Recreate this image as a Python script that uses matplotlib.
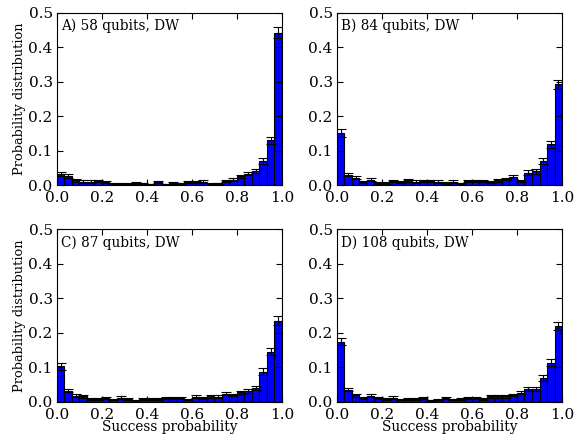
import numpy as np
import matplotlib
matplotlib.use('Agg')
import matplotlib.pyplot as plt

# 30 bins of success probability in [0, 1]
bin_edges = np.linspace(0.0, 1.0, 31)

labels = ['A) 58 qubits, DW', 'B) 84 qubits, DW', 'C) 87 qubits, DW', 'D) 108 qubits, DW']

dist_a = [0.033, 0.027, 0.014, 0.011, 0.011, 0.013, 0.009, 0.005, 0.004, 0.004,
          0.007, 0.006, 0.003, 0.009, 0.003, 0.007, 0.006, 0.010, 0.009, 0.011,
          0.004, 0.006, 0.012, 0.016, 0.026, 0.034, 0.042, 0.071, 0.131, 0.442]
dist_b = [0.152, 0.031, 0.022, 0.010, 0.016, 0.007, 0.007, 0.013, 0.009, 0.014,
          0.011, 0.012, 0.012, 0.011, 0.007, 0.011, 0.006, 0.012, 0.012, 0.013,
          0.010, 0.015, 0.018, 0.024, 0.013, 0.037, 0.040, 0.071, 0.119, 0.293]
dist_c = [0.103, 0.033, 0.018, 0.016, 0.009, 0.008, 0.012, 0.007, 0.013, 0.010,
          0.003, 0.010, 0.010, 0.009, 0.012, 0.012, 0.012, 0.007, 0.015, 0.012,
          0.016, 0.015, 0.024, 0.020, 0.028, 0.032, 0.041, 0.088, 0.146, 0.235]
dist_d = [0.175, 0.036, 0.019, 0.012, 0.018, 0.011, 0.010, 0.013, 0.007, 0.009,
          0.009, 0.011, 0.005, 0.007, 0.011, 0.007, 0.009, 0.012, 0.011, 0.010,
          0.017, 0.017, 0.016, 0.020, 0.027, 0.037, 0.037, 0.070, 0.114, 0.221]

err_a = [0.005, 0.005, 0.003, 0.003, 0.003, 0.003, 0.003, 0.002, 0.002, 0.002,
         0.002, 0.002, 0.002, 0.003, 0.002, 0.002, 0.002, 0.003, 0.003, 0.003,
         0.002, 0.002, 0.003, 0.004, 0.005, 0.005, 0.006, 0.008, 0.010, 0.015]
err_b = [0.011, 0.005, 0.004, 0.003, 0.004, 0.002, 0.002, 0.003, 0.003, 0.003,
         0.003, 0.003, 0.003, 0.003, 0.002, 0.003, 0.002, 0.003, 0.003, 0.003,
         0.003, 0.004, 0.004, 0.005, 0.003, 0.006, 0.006, 0.008, 0.010, 0.013]
err_c = [0.009, 0.005, 0.004, 0.004, 0.003, 0.003, 0.003, 0.002, 0.003, 0.003,
         0.002, 0.003, 0.003, 0.003, 0.003, 0.003, 0.003, 0.002, 0.004, 0.003,
         0.004, 0.004, 0.005, 0.004, 0.005, 0.005, 0.006, 0.009, 0.011, 0.013]
err_d = [0.011, 0.005, 0.004, 0.003, 0.004, 0.003, 0.003, 0.003, 0.002, 0.003,
         0.003, 0.003, 0.002, 0.002, 0.003, 0.002, 0.003, 0.003, 0.003, 0.003,
         0.004, 0.004, 0.004, 0.004, 0.005, 0.006, 0.006, 0.008, 0.010, 0.012]

plt.rcParams['font.family'] = 'DejaVu Serif'
plt.rcParams['font.size'] = 10
plt.rcParams['xtick.labelsize'] = 11
plt.rcParams['ytick.labelsize'] = 11
plt.rcParams['xtick.direction'] = 'in'
plt.rcParams['ytick.direction'] = 'in'
plt.rcParams['xtick.top'] = True
plt.rcParams['ytick.right'] = True
plt.rcParams['xtick.major.size'] = 4
plt.rcParams['ytick.major.size'] = 4

fig, axes = plt.subplots(2, 2, figsize=(5.8, 4.36), dpi=100)
fig.subplots_adjust(left=0.098, right=0.969, bottom=0.078, top=0.971,
                    wspace=0.244, hspace=0.255)

dists = [dist_a, dist_b, dist_c, dist_d]
errs = [err_a, err_b, err_c, err_d]
width = bin_edges[1] - bin_edges[0]
centers = bin_edges[:-1] + width / 2

for i, ax in enumerate(axes.flat):
    ax.bar(bin_edges[:-1], dists[i], width=width, align='edge',
           color='#0000ff', edgecolor='black', linewidth=0.8)
    ax.errorbar(centers, dists[i], yerr=errs[i], fmt='none',
                ecolor='black', elinewidth=0.8, capsize=3.5, capthick=0.8)
    ax.set_xlim(0, 1)
    ax.set_ylim(0, 0.5)
    ax.set_xticks(np.arange(0, 1.01, 0.2))
    ax.set_yticks(np.arange(0, 0.51, 0.1))
    ax.tick_params(axis='y', pad=3)
    ax.tick_params(axis='x', pad=4)
    ax.text(0.02, 0.965, labels[i], transform=ax.transAxes, va='top', ha='left',
            fontsize=9.8)
    if i % 2 == 0:
        ax.set_ylabel('Probability distribution', fontsize=9.3, labelpad=2)
    if i >= 2:
        ax.set_xlabel('Success probability', fontsize=9.8, labelpad=-1)

fig.savefig('out.png', dpi=100)
